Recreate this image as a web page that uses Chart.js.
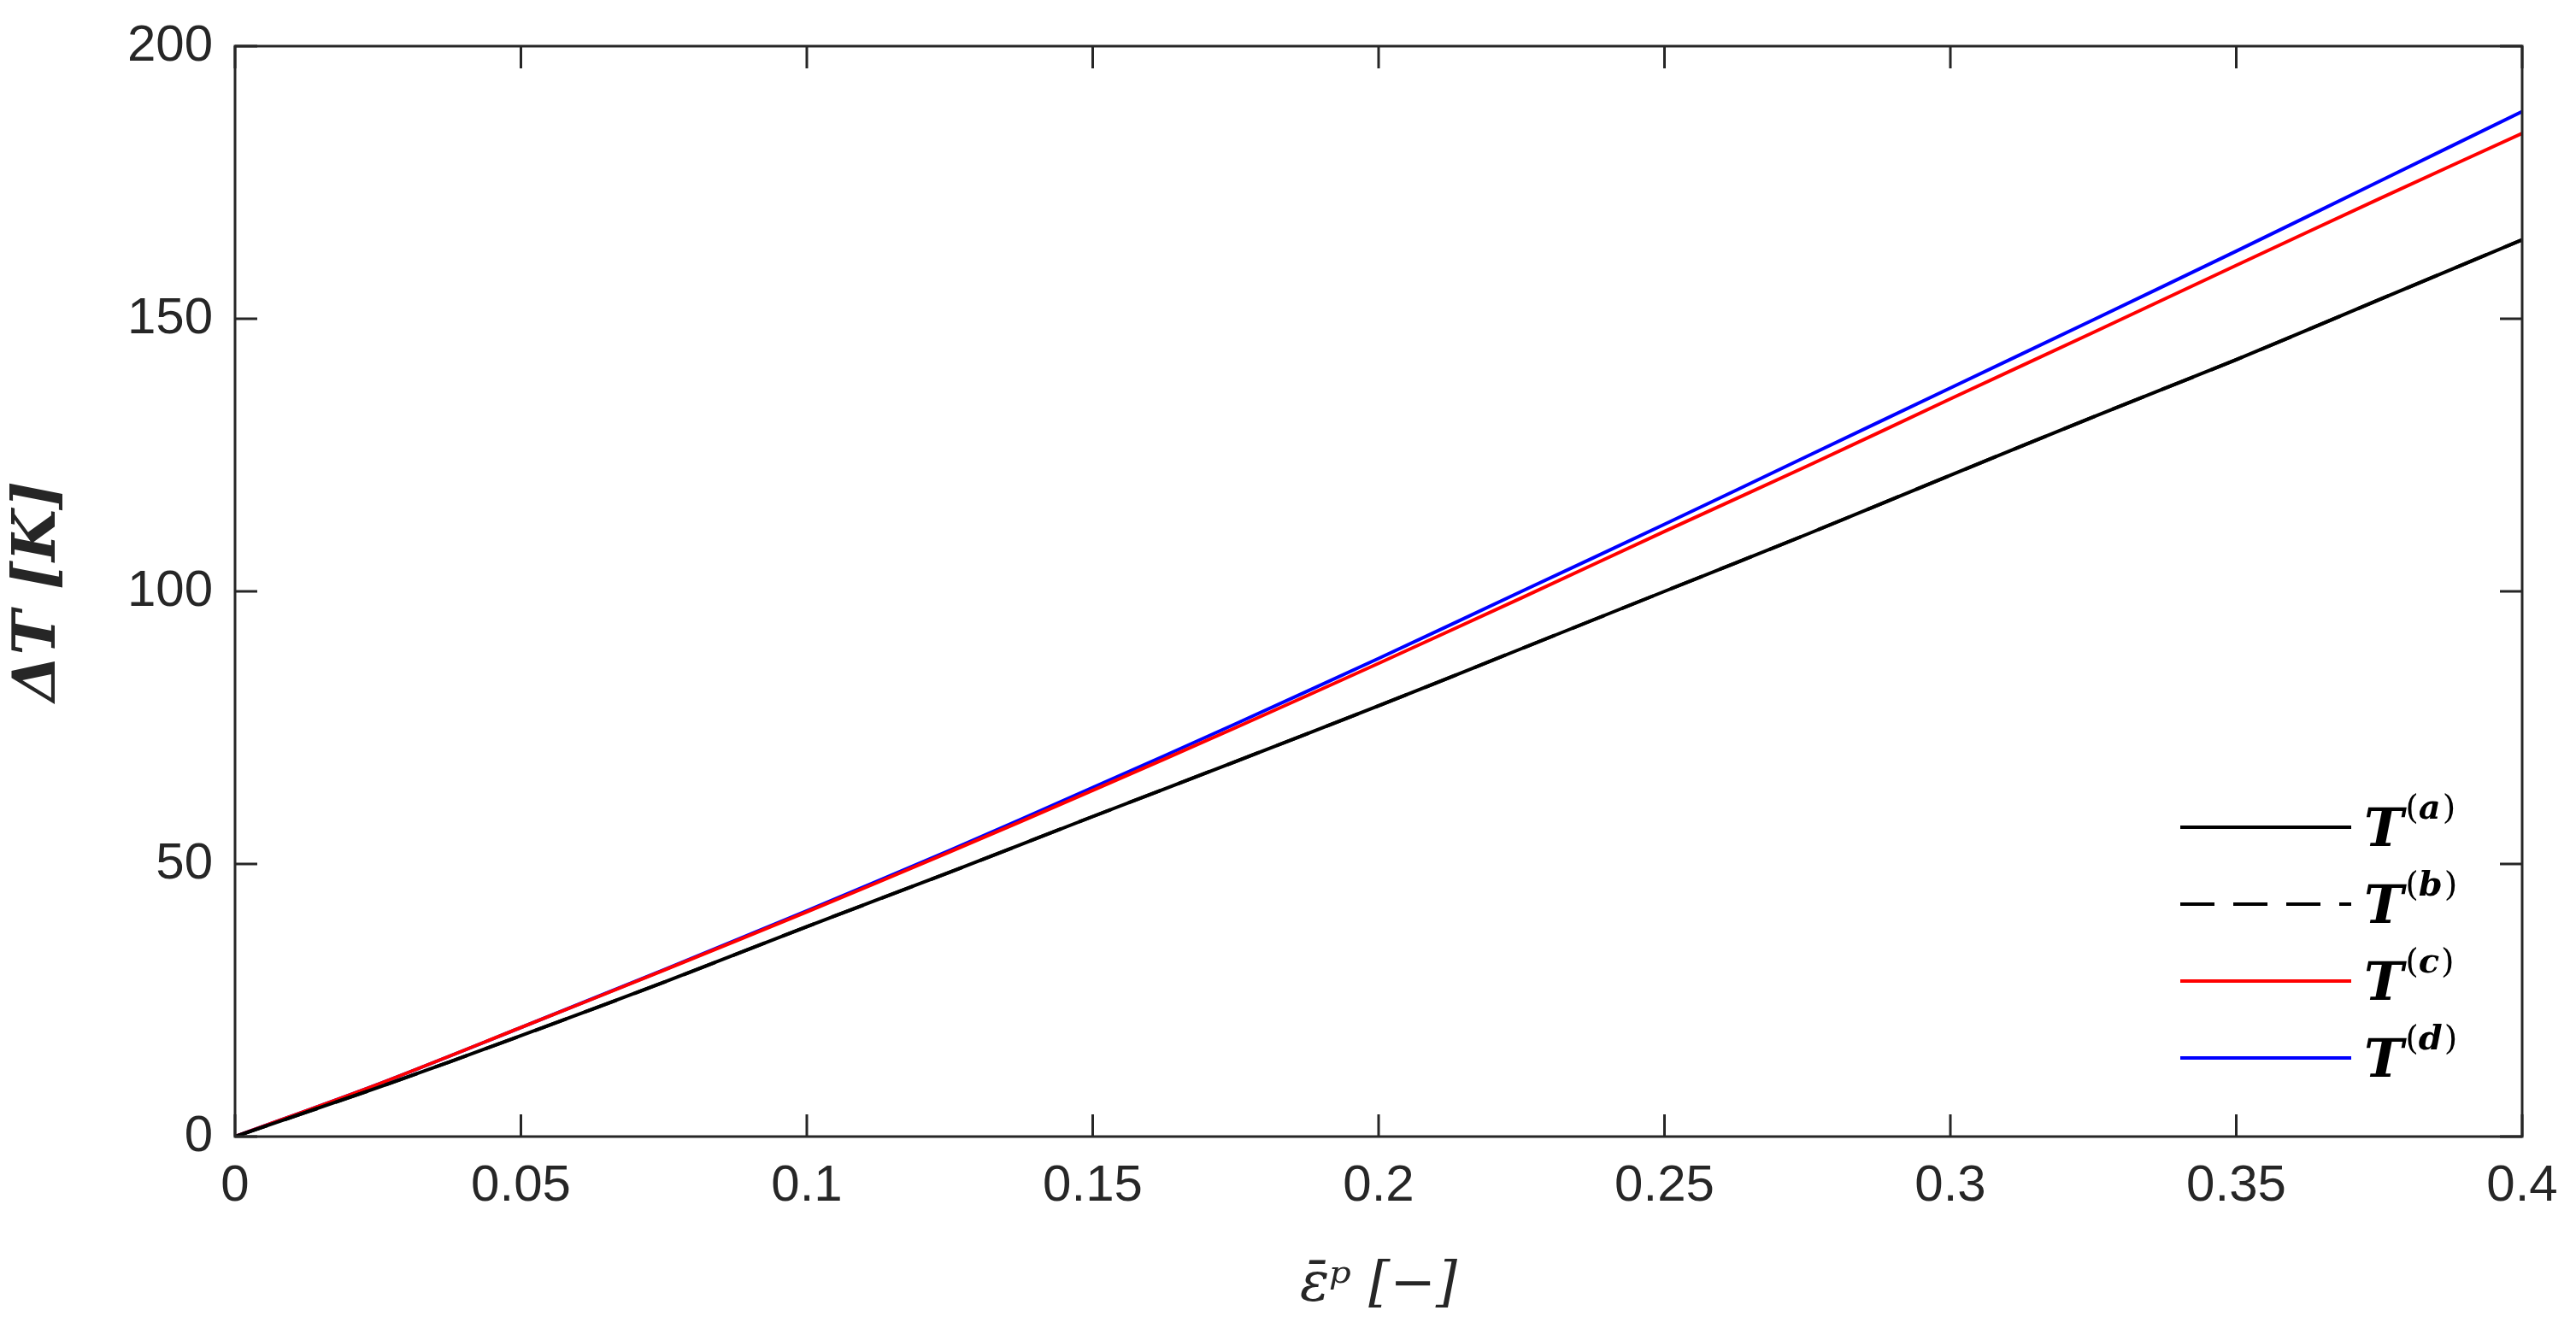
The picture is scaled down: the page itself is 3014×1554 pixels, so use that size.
<!DOCTYPE html>
<html>
<head>
<meta charset="utf-8">
<script src="https://cdn.jsdelivr.net/npm/chart.js@4/dist/chart.umd.min.js"></script>
<style>
  html, body { margin: 0; padding: 0; background: #fff; }
  #wrap { width: 3014px; height: 1554px; }
</style>
</head>
<body>
<div id="wrap"><canvas id="chart"></canvas></div>
<script>
const strain = [0, 0.025, 0.05, 0.075, 0.1, 0.125, 0.15, 0.175, 0.2, 0.225, 0.25, 0.275, 0.3, 0.325, 0.35, 0.375, 0.4];
const tA = [0, 9, 18.5, 28.3, 38.5, 48.5, 58.7, 68.8, 79, 89.5, 100, 110.5, 121.3, 132, 142.5, 153.5, 164.5];
const tB = tA.slice();
const tC = [0, 9.6, 20, 30.5, 41.2, 52.2, 63.5, 75, 86.8, 98.8, 111, 123, 135.3, 147.5, 159.8, 172, 184];
const tD = [0, 9.6, 20, 30.6, 41.4, 52.5, 64, 75.7, 87.7, 100, 112.3, 124.8, 137.3, 149.8, 162.4, 175.2, 188];
const labels = ['a', 'b', 'c', 'd'];
const xTicks = [0, 0.05, 0.1, 0.15, 0.2, 0.25, 0.3, 0.35, 0.4];
const yTicks = [0, 50, 100, 150, 200];

const pts = ys => strain.map((x, i) => ({ x: x, y: ys[i] }));
const axisCol = '#262626';

// box + inward ticks on all four sides, legend in lower right
const boxPlugin = {
  id: 'box',
  afterDraw(chart) {
    const { ctx, chartArea: a, scales } = chart;
    ctx.save();
    ctx.strokeStyle = axisCol;
    ctx.lineWidth = 3;
    ctx.strokeRect(a.left, a.top, a.right - a.left, a.bottom - a.top);
    const len = 26;
    ctx.beginPath();
    xTicks.forEach(v => {
      const px = scales.x.getPixelForValue(v);
      ctx.moveTo(px, a.bottom); ctx.lineTo(px, a.bottom - len);
      ctx.moveTo(px, a.top); ctx.lineTo(px, a.top + len);
    });
    yTicks.forEach(v => {
      const py = scales.y.getPixelForValue(v);
      ctx.moveTo(a.left, py); ctx.lineTo(a.left + len, py);
      ctx.moveTo(a.right, py); ctx.lineTo(a.right - len, py);
    });
    ctx.stroke();

    // legend
    let y0 = a.bottom - 362;
    chart.data.datasets.forEach((ds, i) => {
      const yy = y0 + i * 90;
      ctx.strokeStyle = ds.borderColor;
      ctx.lineWidth = ds.borderWidth;
      ctx.setLineDash(ds.borderDash || []);
      ctx.beginPath();
      ctx.moveTo(a.right - 400, yy); ctx.lineTo(a.right - 200, yy);
      ctx.stroke();
      ctx.setLineDash([]);
      ctx.fillStyle = '#000';
      ctx.textBaseline = 'alphabetic';
      let x = a.right - 185;
      ctx.font = 'italic bold 62px "DejaVu Serif"';
      ctx.fillText('T', x, yy + 22);
      x += ctx.measureText('T').width + 2;
      ctx.font = '40px "DejaVu Serif"';
      ctx.fillText('(', x, yy - 10);
      x += ctx.measureText('(').width;
      ctx.font = 'italic bold 40px "DejaVu Serif"';
      ctx.fillText(ds.label, x, yy - 10);
      x += ctx.measureText(ds.label).width + 2;
      ctx.font = '40px "DejaVu Serif"';
      ctx.fillText(')', x, yy - 10);
    });
    ctx.restore();
  }
};

new Chart(document.getElementById('chart'), {
  type: 'line',
  data: {
    datasets: [
      { label: labels[0], data: pts(tA), borderColor: '#000', borderWidth: 4 },
      { label: labels[1], data: pts(tB), borderColor: '#000', borderWidth: 4, borderDash: [40, 22] },
      { label: labels[2], data: pts(tC), borderColor: '#ff0000', borderWidth: 4 },
      { label: labels[3], data: pts(tD), borderColor: '#0000ff', borderWidth: 4 }
    ]
  },
  options: {
    responsive: true,
    maintainAspectRatio: false,
    animation: false,
    elements: { point: { radius: 0 }, line: { tension: 0.3 } },
    layout: { padding: { top: 48, right: 63, left: 0, bottom: 0 } },
    plugins: { legend: { display: false }, tooltip: { enabled: false } },
    scales: {
      x: {
        type: 'linear', min: 0, max: 0.4,
        afterFit: s => { s.height = 224; },
        afterBuildTicks: s => { s.ticks = xTicks.map(v => ({ value: v })); },
        grid: { display: false },
        border: { display: false },
        ticks: { color: axisCol, font: { size: 60, family: 'Liberation Sans' }, padding: 14, maxRotation: 0, callback: v => String(v) },
        title: { display: true, text: 'ε̄ᵖ [−]', color: axisCol, font: { size: 64, family: 'DejaVu Serif', style: 'italic' }, padding: { top: 0, bottom: 10 } }
      },
      y: {
        type: 'linear', min: 0, max: 200,
        afterFit: s => { s.width = 275; },
        afterBuildTicks: s => { s.ticks = yTicks.map(v => ({ value: v })); },
        grid: { display: false },
        border: { display: false },
        ticks: { color: axisCol, font: { size: 60, family: 'Liberation Sans' }, padding: 18 },
        title: { display: true, text: 'ΔT [K]', color: axisCol, font: { size: 70, family: 'DejaVu Serif', style: 'italic', weight: 'bold' }, padding: { bottom: 14 } }
      }
    }
  },
  plugins: [boxPlugin]
});
</script>
</body>
</html>
